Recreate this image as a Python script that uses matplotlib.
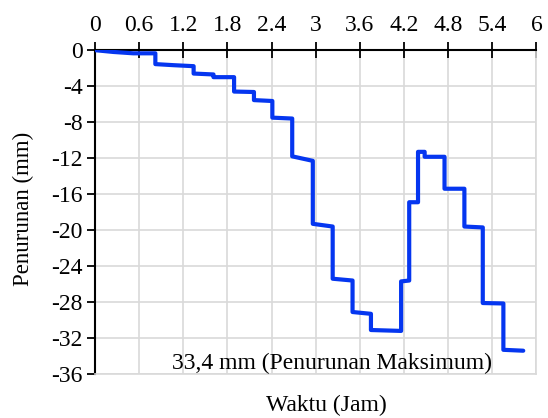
import matplotlib.pyplot as plt

# time (hours) and settlement (mm) of the step-shaped curve
waktu = [0.00, 0.25, 0.52, 0.82, 0.82, 1.07, 1.34, 1.34, 1.61, 1.61, 1.89, 1.89,
         2.16, 2.16, 2.41, 2.41, 2.68, 2.68, 2.96, 2.96, 3.23, 3.23, 3.50, 3.50,
         3.75, 3.75, 4.16, 4.16, 4.27, 4.27, 4.39, 4.39, 4.48, 4.48, 4.75, 4.75,
         5.02, 5.02, 5.27, 5.27, 5.55, 5.55, 5.82]
penurunan = [0.0, -0.2, -0.35, -0.35, -1.55, -1.67, -1.78, -2.6, -2.7, -3.0, -3.0, -4.6,
             -4.65, -5.55, -5.65, -7.5, -7.6, -11.8, -12.3, -19.3, -19.6, -25.4, -25.6, -29.1,
             -29.3, -31.1, -31.2, -25.7, -25.6, -16.9, -16.9, -11.3, -11.3, -11.85, -11.85, -15.4,
             -15.4, -19.6, -19.7, -28.1, -28.15, -33.3, -33.4]

x_ticks = [0, 0.6, 1.2, 1.8, 2.4, 3, 3.6, 4.2, 4.8, 5.4, 6]
x_labels = ['0', '0.6', '1.2', '1.8', '2.4', '3', '3.6', '4.2', '4.8', '5.4', '6']
y_ticks = list(range(0, -37, -4))

plt.rcParams['font.family'] = ['Liberation Serif', 'DejaVu Serif']

fig = plt.figure(figsize=(5.48, 4.18), dpi=100)
ax = fig.add_axes([0.1734, 0.105, 0.8056, 0.775])

ax.plot(waktu, penurunan, color='#0536F0', linewidth=3,
        solid_capstyle='round', solid_joinstyle='round', zorder=3)

ax.set_xlim(0, 6)
ax.set_ylim(-36, 0)
ax.set_xticks(x_ticks)
ax.set_xticklabels(x_labels)
ax.set_yticks(y_ticks)
ax.set_yticklabels([str(t) for t in y_ticks])

ax.xaxis.tick_top()
ax.tick_params(axis='x', direction='inout', length=11, width=1.3, labelsize=17, pad=5)
ax.tick_params(axis='y', direction='out', length=6, width=1.3, labelsize=17, pad=3)

ax.grid(True, color='#d9d9d9', linewidth=1.2)
ax.set_axisbelow(True)
for s in ['right', 'bottom']:
    ax.spines[s].set_color('#d9d9d9')
    ax.spines[s].set_linewidth(1.2)
for s in ['left', 'top']:
    ax.spines[s].set_color('black')
    ax.spines[s].set_linewidth(1.5)

ax.text(1.05, -35.4, '33,4 mm (Penurunan Maksimum)', fontsize=17,
        ha='left', va='baseline', zorder=4)

fig.text(0.043, 0.501, 'Penurunan (mm)', rotation=90, fontsize=16.5,
         ha='center', va='center')
fig.text(0.595, 0.031, 'Waktu (Jam)', fontsize=17, ha='center', va='center')

plt.savefig('out.png', dpi=100)
